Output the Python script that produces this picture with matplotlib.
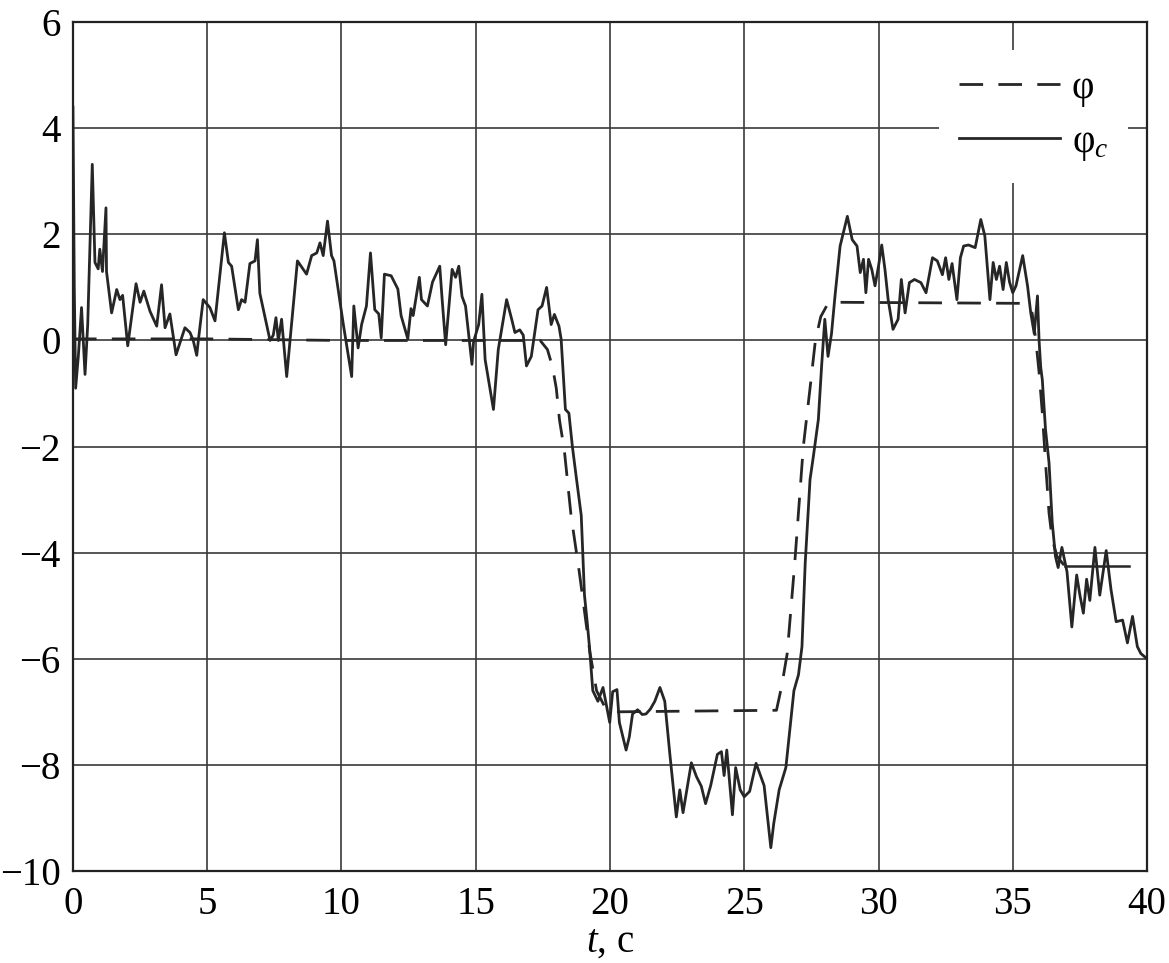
import matplotlib
matplotlib.use("Agg")
import matplotlib.pyplot as plt
import numpy as np

plt.rcParams['font.family'] = ['Liberation Serif', 'DejaVu Serif']
plt.rcParams['mathtext.fontset'] = 'custom'
plt.rcParams['mathtext.rm'] = 'Liberation Serif'
plt.rcParams['mathtext.it'] = 'Liberation Serif:italic'

# φ_c (solid) - measured signal
t_c = [0.0, 0.05, 0.1, 0.2, 0.32, 0.45, 0.55, 0.72, 0.82, 0.94, 1.0, 1.1, 1.23, 1.25, 1.44, 1.63, 1.75,
       1.85, 2.04, 2.35, 2.5, 2.64, 2.87, 3.12, 3.3, 3.43, 3.61, 3.84, 4.17, 4.36, 4.48, 4.61, 4.67,
       4.85, 5.1, 5.29, 5.64, 5.79, 5.91, 6.16, 6.28, 6.41, 6.59, 6.78, 6.87, 6.96, 7.34, 7.46, 7.56,
       7.65, 7.77, 7.96, 8.36, 8.7, 8.89, 9.08, 9.2, 9.32, 9.48, 9.63, 9.72, 10.07, 10.38, 10.46, 10.62,
       10.75, 10.93, 11.08, 11.24, 11.39, 11.48, 11.6, 11.85, 12.1, 12.22, 12.47, 12.59, 12.67, 12.9,
       12.98, 13.2, 13.39, 13.66, 13.75, 13.88, 14.12, 14.25, 14.37, 14.49, 14.62, 14.86, 14.92, 15.11,
       15.23, 15.35, 15.66, 15.84, 16.15, 16.34, 16.46, 16.64, 16.77, 16.89, 17.07, 17.32, 17.47, 17.64,
       17.81, 17.93, 18.1, 18.18, 18.34, 18.47, 18.6, 18.75, 18.93, 19.05, 19.15, 19.24, 19.36, 19.55,
       19.74, 19.99, 20.1, 20.26, 20.35, 20.6, 20.72, 20.84, 21.03, 21.2, 21.34, 21.5, 21.67, 21.86,
       22.04, 22.23, 22.47, 22.6, 22.72, 23.03, 23.22, 23.4, 23.56, 23.75, 24.0, 24.15, 24.25, 24.35,
       24.56, 24.68, 24.85, 25.0, 25.2, 25.44, 25.74, 25.99, 26.1, 26.3, 26.55, 26.85, 27.02, 27.15,
       27.27, 27.45, 27.57, 27.76, 27.88, 28.0, 28.12, 28.25, 28.38, 28.57, 28.84, 29.02, 29.2, 29.32,
       29.44, 29.53, 29.63, 29.75, 29.87, 30.0, 30.12, 30.24, 30.36, 30.54, 30.73, 30.85, 30.99, 31.15,
       31.34, 31.58, 31.77, 32.01, 32.19, 32.38, 32.5, 32.62, 32.74, 32.92, 33.05, 33.17, 33.35, 33.6,
       33.81, 33.96, 34.15, 34.27, 34.39, 34.51, 34.64, 34.76, 34.88, 35.0, 35.12, 35.37, 35.55, 35.67,
       35.8, 35.92, 35.98, 36.04, 36.1, 36.22, 36.35, 36.47, 36.59, 36.69, 36.83, 37.02, 37.2, 37.38,
       37.5, 37.63, 37.75, 37.87, 38.06, 38.24, 38.48, 38.66, 38.85, 39.09, 39.27, 39.46, 39.64, 39.77,
       40.0]
phi_c = [4.4, 1.0, -0.9, -0.3, 0.62, -0.64, 0.3, 3.32, 1.47, 1.35, 1.72, 1.3, 2.5, 1.3, 0.52, 0.96, 0.77,
         0.85, -0.1, 1.07, 0.72, 0.93, 0.55, 0.27, 1.05, 0.24, 0.5, -0.27, 0.24, 0.15, 0.0, -0.28, 0.0,
         0.77, 0.62, 0.37, 2.03, 1.47, 1.4, 0.58, 0.77, 0.72, 1.45, 1.5, 1.9, 0.89, 0.0, 0.1, 0.43,
         0.0, 0.4, -0.68, 1.5, 1.25, 1.6, 1.65, 1.84, 1.6, 2.25, 1.6, 1.5, 0.3, -0.68, 0.65, -0.14,
         0.3, 0.65, 1.65, 0.58, 0.5, 0.05, 1.25, 1.22, 0.97, 0.47, 0.03, 0.6, 0.47, 1.19,
         0.77, 0.65, 1.1, 1.4, 0.77, -0.08, 1.34, 1.19, 1.4, 0.83, 0.65, -0.45, -0.02, 0.3,
         0.87, -0.36, -1.3, -0.17, 0.77, 0.4, 0.15, 0.2, 0.1, -0.48, -0.3, 0.58, 0.65, 1.0,
         0.3, 0.49, 0.27, 0.03, -1.3, -1.37, -2.0, -2.6, -3.3, -4.8, -5.3, -5.8, -6.6, -6.8,
         -6.54, -7.2, -6.62, -6.58, -7.2, -7.72, -7.47, -7.04, -6.96, -7.05, -7.04, -6.95, -6.8, -6.54,
         -6.8, -7.8, -8.98, -8.47, -8.9, -7.96, -8.22, -8.4, -8.73, -8.39, -7.8, -7.75, -8.2, -7.72,
         -8.94, -8.05, -8.47, -8.6, -8.5, -7.97, -8.39, -9.56, -9.1, -8.47, -8.05, -6.6, -6.3, -5.77,
         -4.2, -2.62, -2.2, -1.49, -0.49, 0.4, -0.3, 0.13, 0.84, 1.78, 2.34, 1.9, 1.78, 1.28,
         1.53, 0.9, 1.53, 1.34, 1.03, 1.4, 1.8, 1.34, 0.77, 0.21, 0.4, 1.15, 0.52, 1.09,
         1.15, 1.09, 0.9, 1.56, 1.5, 1.24, 1.56, 1.15, 1.45, 0.77, 1.56, 1.78, 1.8, 1.75,
         2.28, 1.97, 0.77, 1.47, 1.15, 1.4, 0.96, 1.47, 1.1, 0.9, 1.03, 1.6, 1.03, 0.52,
         0.13, 0.84, 0.0, -0.5, -0.74, -1.68, -2.3, -3.43, -4.07, -4.28, -3.9, -4.36, -5.4, -4.42,
         -4.8, -5.14, -4.5, -4.9, -3.9, -4.8, -3.96, -4.7, -5.3, -5.27, -5.7, -5.2, -5.77, -5.9,
         -6.0]

# φ (dashed) - reference angle
t_ref = [0.0, 5.0, 10.0, 15.0, 17.4, 17.67, 17.86, 18.0, 18.12, 18.3, 18.55, 18.85, 19.05, 19.25,
         19.5, 19.8, 20.1, 26.2, 26.4, 26.6, 26.88, 27.2, 27.45, 27.65, 27.85, 28.1, 28.5, 35.3,
         35.72, 35.86, 35.98, 36.1, 36.22, 36.35, 36.47, 36.65, 36.95, 39.33]
phi = [0.03, 0.03, 0.0, 0.0, 0.0, -0.17, -0.5, -0.9, -1.5, -2.07, -3.3, -4.34, -5.1, -5.87,
       -6.6, -6.9, -7.0, -6.97, -6.5, -5.9, -4.2, -2.0, -0.9, 0.0, 0.45, 0.68, 0.72, 0.7,
       0.52, 0.0, -0.6, -1.36, -2.3, -3.25, -3.75, -4.07, -4.26, -4.26]

fig = plt.figure(figsize=(11.69, 9.63), dpi=100)
ax = fig.add_axes([0.0624, 0.0955, 0.9188, 0.8815])

line_col = '#262626'
n_tail = 2  # last flat piece of φ is drawn continuous in the original
ax.plot(t_ref[:-n_tail + 1], phi[:-n_tail + 1], color=line_col, lw=2.0, dashes=(8.5, 5.5), label='φ')
ax.plot(t_ref[-n_tail:], phi[-n_tail:], color=line_col, lw=1.8)
ax.plot(t_c, phi_c, color=line_col, lw=2.0, label=r'φ$_{c}$')

ax.set_xlim(0, 40)
ax.set_ylim(-10, 6)
ax.set_xticks(np.arange(0, 41, 5))
ax.set_yticks(np.arange(-10, 7, 2))
ax.grid(True, color='#3a3a3a', lw=1.2)
ax.tick_params(length=0, labelsize=28)
ax.tick_params(axis='y', pad=9)
ax.tick_params(axis='x', pad=11)
for s in ax.spines.values():
    s.set_linewidth(1.6)
    s.set_color('#222222')

ax.set_xlabel(r'$t$, с', fontsize=28, labelpad=0)

leg = ax.legend(loc='upper right', bbox_to_anchor=(0.982, 0.967), fontsize=28,
                handlelength=2.6, handletextpad=0.3, labelspacing=0.45, borderaxespad=0,
                frameon=True, fancybox=False, framealpha=1.0, borderpad=0.5)
leg.get_frame().set_edgecolor('none')
leg.get_frame().set_facecolor('white')

fig.savefig('out.png', dpi=100)
